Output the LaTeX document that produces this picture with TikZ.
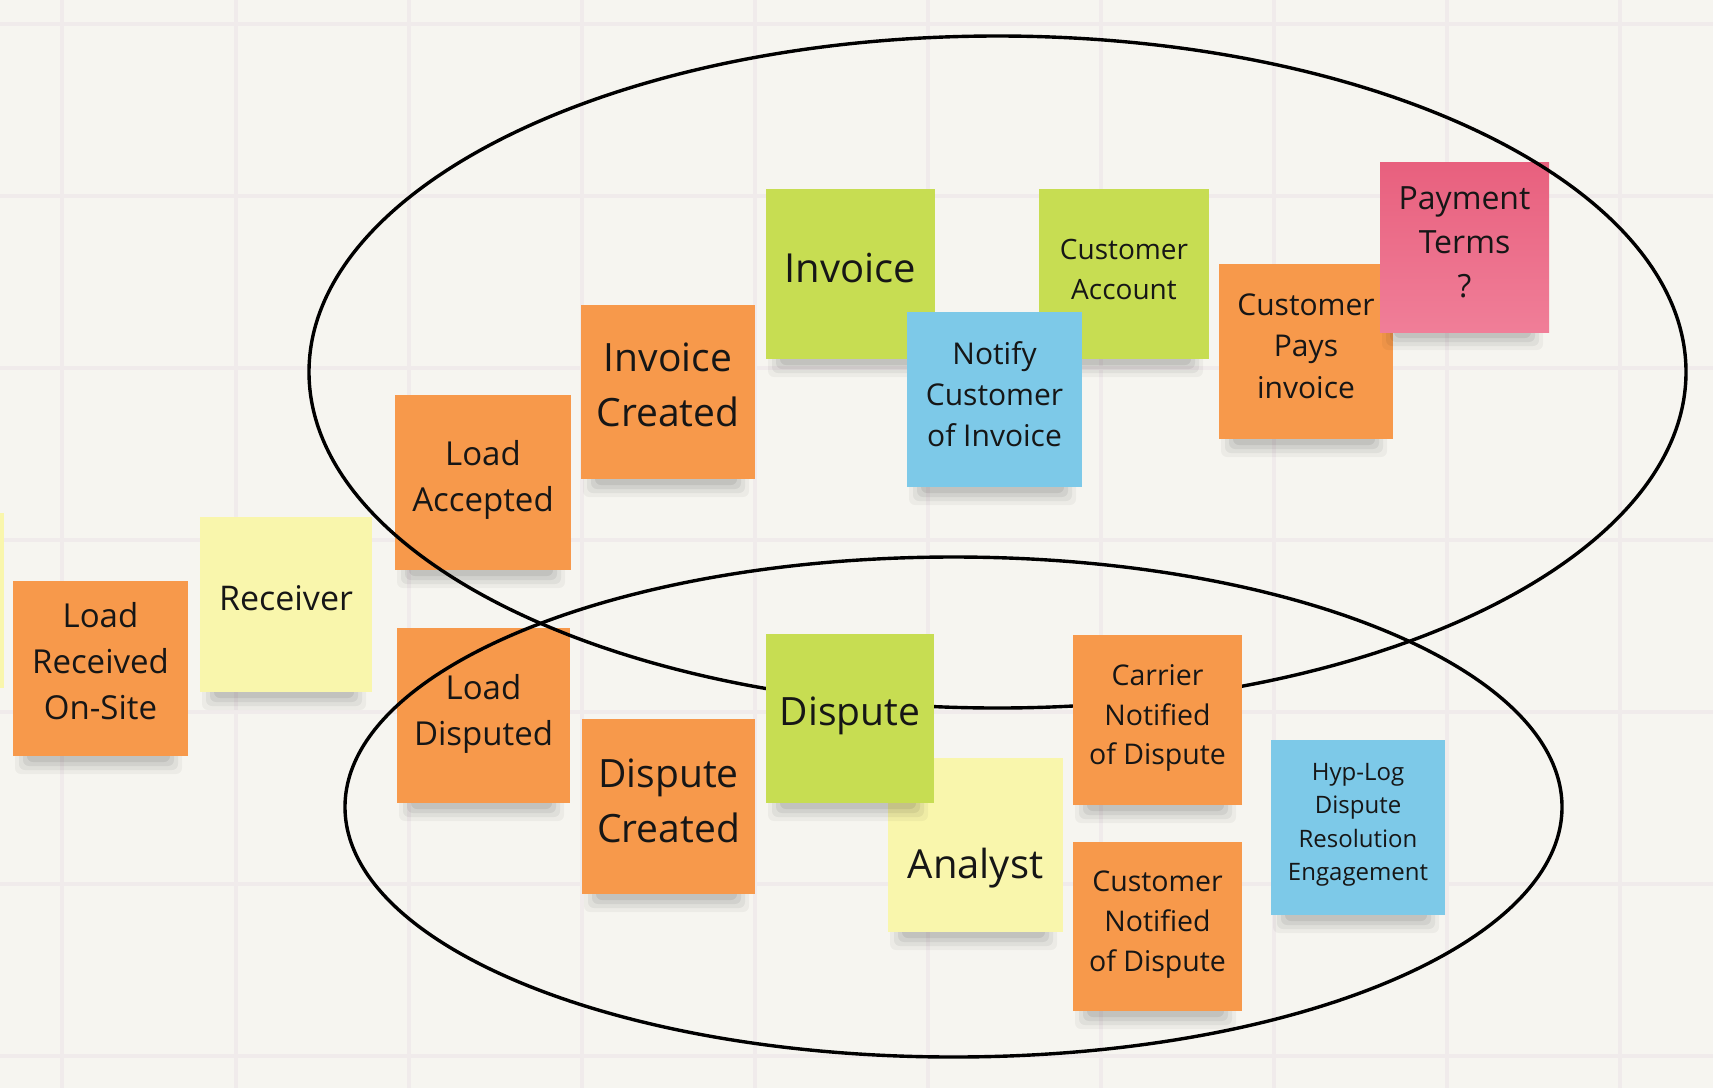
\documentclass[tikz,border=0pt]{standalone}
\usepackage{fontspec}
\setmainfont{Open Sans}
\definecolor{bg}{RGB}{246,245,240}
\definecolor{gridc}{RGB}{240,235,235}
\definecolor{orangeN}{RGB}{247,153,75}
\definecolor{yellowN}{RGB}{249,246,172}
\definecolor{greenN}{RGB}{199,221,82}
\definecolor{blueN}{RGB}{125,201,232}
\definecolor{pinkTop}{RGB}{232,96,126}
\definecolor{pinkBot}{RGB}{240,126,152}
\definecolor{inkc}{RGB}{22,22,22}
\tikzset{
  gridline/.style={draw=gridc, line width=4pt},
  ring/.style={draw=black, line width=3.4pt},
  stickybox/.style={rectangle, inner sep=0pt, outer sep=0pt, draw=none},
  txt/.style={align=center, text=inkc, inner sep=0pt},
  shadowlayer/.style={fill=black, opacity=#1, rounded corners=6pt},
}
\newcommand{\sticky}[6]{%
  \fill[shadowlayer=0.04] ({#2+2},{#5-10}) rectangle ({#4-6},{#5+18});
  \fill[shadowlayer=0.05] ({#2+6},{#5-10}) rectangle ({#4-10},{#5+14});
  \fill[shadowlayer=0.06] ({#2+10},{#5-10}) rectangle ({#4-14},{#5+10});
  \fill[shadowlayer=0.07] ({#2+14},{#5-10}) rectangle ({#4-18},{#5+6});
  \node[stickybox, #6, minimum width={#4-#2}, minimum height={#5-#3}] (#1) at ({(#2+#4)/2},{(#3+#5)/2}) {};
}
\newcommand{\fs}[2]{\fontsize{#1}{#2}\selectfont}
\begin{document}
\begin{tikzpicture}[x=1pt,y=-1pt]
\useasboundingbox (0,0) rectangle (1713,1088);
\clip (0,0) rectangle (1713,1088);
\fill[bg] (0,0) rectangle (1713,1088);
% grid
\foreach \gx in {62,236,409,582,755,928,1101,1274,1447,1620}
  \draw[gridline] (\gx,0) -- (\gx,1088);
\foreach \gy in {24,196,368,540,712,884,1056}
  \draw[gridline] (0,\gy) -- (1713,\gy);

% partially visible note at the left edge
\node[stickybox, fill=yellowN, minimum width=170, minimum height=175] (edge) at (-81,600) {};

% notes below the rings
\sticky{lrs}{13}{581}{188}{756}{fill=orangeN}
\node[txt, font=\fs{33}{46}] (lrs-t) at (100.5,661) {Load\\Received\\On-Site};

\sticky{recv}{200}{517}{372}{692}{fill=yellowN}
\node[txt, font=\fs{34}{46}] (recv-t) at (286,598) {Receiver};

\sticky{lacc}{395}{395}{571}{570}{fill=orangeN}
\node[txt, font=\fs{33}{46}] (lacc-t) at (483,480) {Load\\Accepted};

\sticky{ldis}{397}{628}{570}{803}{fill=orangeN}
\node[txt, font=\fs{33}{46}] (ldis-t) at (483.5,714) {Load\\Disputed};

\sticky{icre}{581}{305}{755}{479}{fill=orangeN}
\node[txt, font=\fs{39}{55}] (icre-t) at (668,385) {Invoice\\Created};

\sticky{dcre}{582}{719}{755}{894}{fill=orangeN}
\node[txt, font=\fs{39}{55}] (dcre-t) at (668.5,801) {Dispute\\Created};

\sticky{inv}{766}{189}{935}{359}{fill=greenN}
\node[txt, font=\fs{40}{55}] (inv-t) at (850.5,268) {Invoice};

\sticky{cacc}{1039}{189}{1209}{359}{fill=greenN}
\node[txt, font=\fs{28}{40}] (cacc-t) at (1124,269) {Customer\\Account};

\sticky{notify}{907}{312}{1082}{487}{fill=blueN}
\node[txt, font=\fs{30}{41}] (notify-t) at (994.5,394) {Notify\\Customer\\of Invoice};

\sticky{analyst}{888}{758}{1063}{932}{fill=yellowN}
\node[txt, font=\fs{40}{55}] (analyst-t) at (975.5,868) {Analyst};

\sticky{cpay}{1219}{264}{1393}{439}{fill=orangeN}
\node[txt, font=\fs{30}{41.5}] (cpay-t) at (1306,346) {Customer\\Pays\\invoice};

\sticky{pterms}{1380}{162}{1549}{332}{top color=pinkTop, bottom color=pinkBot}
\node[txt, font=\fs{32}{44}] (pterms-t) at (1464.5,242) {Payment\\Terms\\?};

\sticky{custnot}{1073}{842}{1242}{1011}{fill=orangeN}
\node[txt, font=\fs{28.5}{40}] (custnot-t) at (1157.5,925) {Customer\\Notified\\of Dispute};

\sticky{hyp}{1271}{740}{1445}{915}{fill=blueN}
\node[txt, font=\fs{24}{33.5}] (hyp-t) at (1358,825) {Hyp-Log\\Dispute\\Resolution\\Engagement};

% the two rings
\draw[ring] (997.5,372) ellipse [x radius=688.5pt, y radius=336pt];
\draw[ring] (953.5,807) ellipse [x radius=608.5pt, y radius=250pt];

% notes above the rings
\sticky{disp}{766}{634}{934}{803}{fill=greenN}
\node[txt, font=\fs{39}{55}] (disp-t) at (850,716) {Dispute};

\sticky{carrier}{1073}{635}{1242}{805}{fill=orangeN}
\node[txt, font=\fs{28.5}{39.5}] (carrier-t) at (1157.5,718) {Carrier\\Notified\\of Dispute};
\end{tikzpicture}
\end{document}
